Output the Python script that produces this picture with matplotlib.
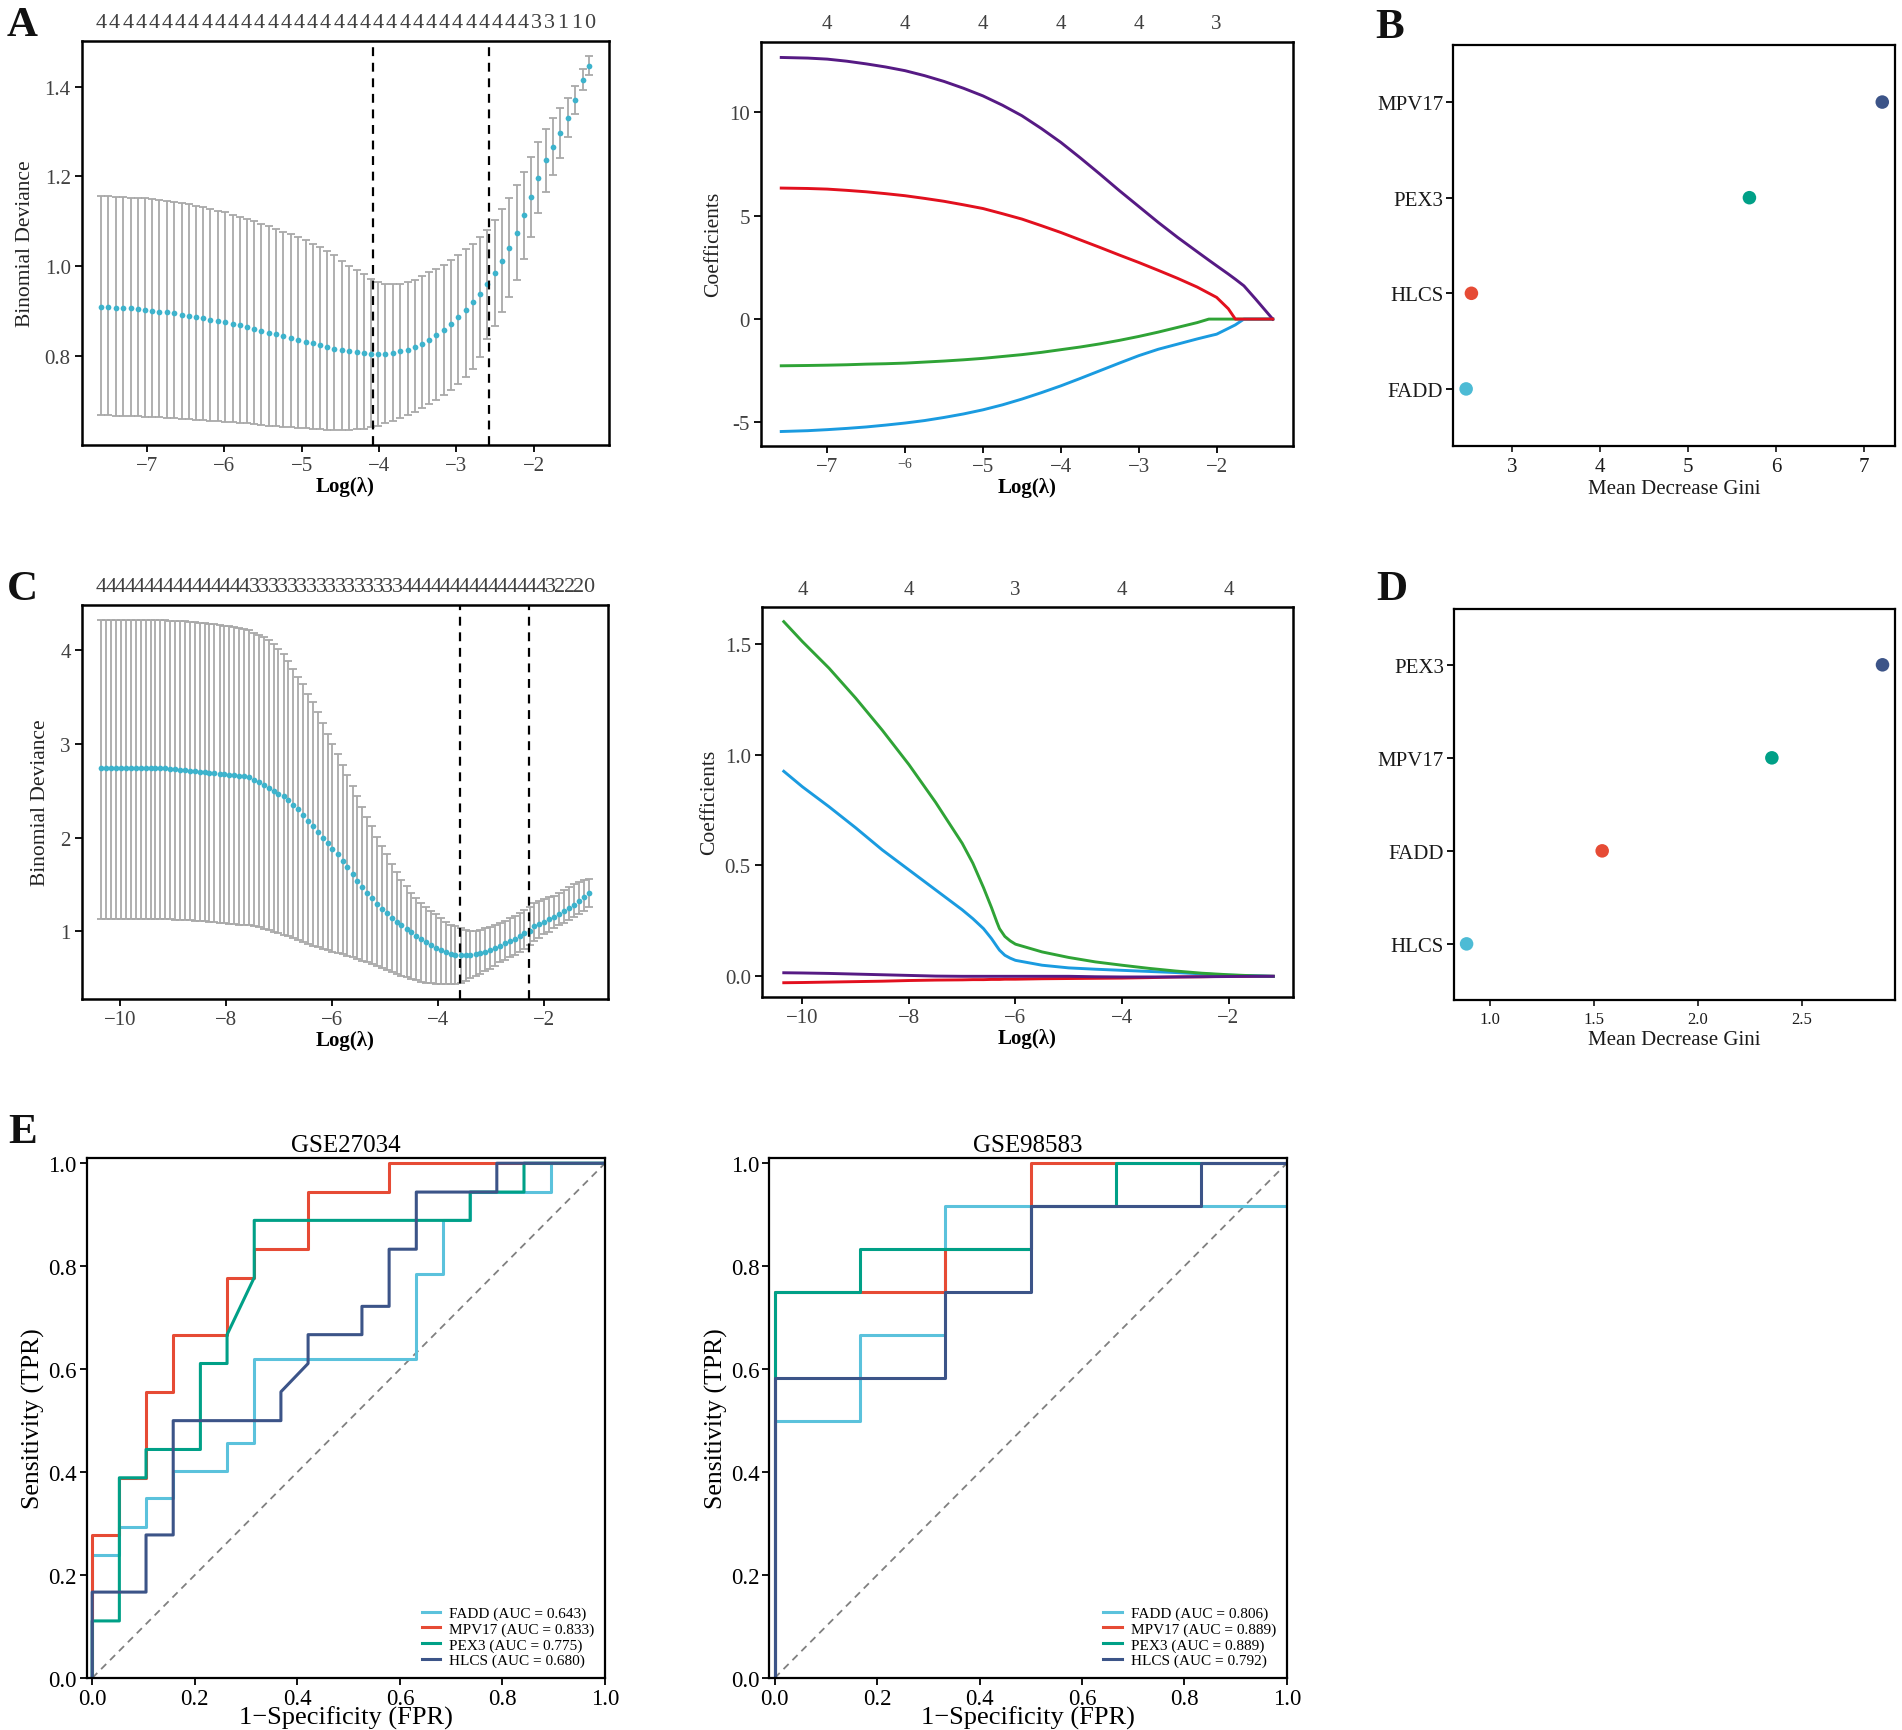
import matplotlib.pyplot as plt
import matplotlib.transforms as mtransforms
import numpy as np
from matplotlib.ticker import FormatStrFormatter

plt.rcParams['font.family'] = ['Liberation Serif', 'DejaVu Serif']

# ---------------- Data ----------------
# Panel A: 10-fold CV binomial deviance (first dataset)
a_loglam = [-7.59, -7.50, -7.40, -7.31, -7.21, -7.12, -7.02, -6.93, -6.84, -6.74,
            -6.65, -6.55, -6.46, -6.37, -6.27, -6.18, -6.08, -5.99, -5.89, -5.80,
            -5.71, -5.61, -5.52, -5.42, -5.33, -5.24, -5.14, -5.05, -4.95, -4.86,
            -4.76, -4.67, -4.58, -4.48, -4.39, -4.29, -4.20, -4.11, -4.01, -3.92,
            -3.82, -3.73, -3.63, -3.54, -3.45, -3.35, -3.26, -3.16, -3.07, -2.98,
            -2.88, -2.79, -2.69, -2.60, -2.50, -2.41, -2.32, -2.22, -2.13, -2.03,
            -1.94, -1.84, -1.75, -1.66, -1.56, -1.47, -1.37, -1.28]
a_mean = [0.910, 0.909, 0.908, 0.907, 0.906, 0.904, 0.903, 0.901, 0.899, 0.897,
          0.895, 0.892, 0.890, 0.887, 0.884, 0.881, 0.878, 0.875, 0.871, 0.868,
          0.864, 0.860, 0.856, 0.852, 0.848, 0.844, 0.840, 0.836, 0.832, 0.828,
          0.824, 0.820, 0.816, 0.813, 0.810, 0.808, 0.806, 0.805, 0.805, 0.805,
          0.807, 0.810, 0.814, 0.820, 0.827, 0.836, 0.846, 0.858, 0.871, 0.886,
          0.902, 0.920, 0.939, 0.960, 0.984, 1.011, 1.041, 1.075, 1.113, 1.155,
          1.197, 1.236, 1.266, 1.296, 1.331, 1.370, 1.415, 1.447]
a_upper = [1.157, 1.156, 1.155, 1.154, 1.153, 1.152, 1.151, 1.149, 1.147, 1.145,
           1.143, 1.141, 1.138, 1.135, 1.132, 1.128, 1.124, 1.120, 1.115, 1.110,
           1.105, 1.100, 1.095, 1.089, 1.083, 1.077, 1.071, 1.065, 1.058, 1.050,
           1.042, 1.034, 1.025, 1.012, 1.000, 0.991, 0.982, 0.972, 0.965, 0.961,
           0.960, 0.960, 0.964, 0.970, 0.978, 0.986, 0.994, 1.003, 1.013, 1.025,
           1.038, 1.050, 1.064, 1.081, 1.103, 1.127, 1.152, 1.180, 1.210, 1.243,
           1.276, 1.306, 1.330, 1.352, 1.374, 1.402, 1.440, 1.469]
a_lower = [0.668, 0.668, 0.667, 0.667, 0.666, 0.666, 0.665, 0.664, 0.663, 0.662,
           0.661, 0.660, 0.659, 0.658, 0.657, 0.656, 0.655, 0.654, 0.652, 0.651,
           0.650, 0.648, 0.647, 0.645, 0.644, 0.642, 0.641, 0.640, 0.639, 0.638,
           0.637, 0.636, 0.636, 0.636, 0.636, 0.637, 0.638, 0.641, 0.645, 0.650,
           0.656, 0.662, 0.669, 0.676, 0.684, 0.693, 0.702, 0.712, 0.724, 0.737,
           0.753, 0.772, 0.797, 0.838, 0.866, 0.897, 0.931, 0.970, 1.016, 1.066,
           1.118, 1.166, 1.203, 1.240, 1.288, 1.338, 1.392, 1.426]
a_cut = [-4.08, -2.58]
a_nonzero = "4444444444" + "4444444444" + "4444444444" + "444" + "33110"

# Panel A right: coefficient paths
ca_loglam = [-7.59, -7.25, -7.0, -6.75, -6.5, -6.25, -6.0, -5.75, -5.5, -5.25,
             -5.0, -4.75, -4.5, -4.25, -4.0, -3.75, -3.5, -3.25, -3.0, -2.75,
             -2.5, -2.25, -2.1, -2.0, -1.85, -1.76, -1.65, -1.5, -1.28]
ca_purple = [12.66, 12.63, 12.58, 12.48, 12.35, 12.20, 12.02, 11.78, 11.50, 11.17,
             10.80, 10.35, 9.84, 9.22, 8.55, 7.80, 7.02, 6.22, 5.45, 4.68,
             3.95, 3.26, 2.85, 2.58, 2.18, 1.93, 1.61, 0.97, 0.0]
ca_red = [6.34, 6.32, 6.29, 6.23, 6.16, 6.07, 5.97, 5.84, 5.70, 5.53,
          5.35, 5.10, 4.84, 4.52, 4.19, 3.83, 3.47, 3.10, 2.74, 2.36,
          1.97, 1.55, 1.25, 1.05, 0.50, 0.0, 0.0, 0.0, 0.0]
ca_green = [-2.26, -2.245, -2.23, -2.21, -2.18, -2.16, -2.13, -2.08, -2.03, -1.97,
            -1.90, -1.81, -1.72, -1.61, -1.48, -1.35, -1.20, -1.03, -0.84, -0.63,
            -0.40, -0.17, 0.0, 0.0, 0.0, 0.0, 0.0, 0.0, 0.0]
ca_blue = [-5.44, -5.40, -5.35, -5.29, -5.22, -5.13, -5.03, -4.91, -4.76, -4.59,
           -4.39, -4.15, -3.87, -3.56, -3.23, -2.87, -2.50, -2.13, -1.77, -1.46,
           -1.21, -0.96, -0.82, -0.73, -0.45, -0.28, 0.0, 0.0, 0.0]
ca_top_ticks = [-7, -6, -5, -4, -3, -2]
ca_top_labels = ['4', '4', '4', '4', '4', '3']

# Panel B: random forest importance
b_genes = ['FADD', 'HLCS', 'PEX3', 'MPV17']
b_gini = [2.48, 2.54, 5.70, 7.21]

# Panel C: CV binomial deviance (second dataset)
c_loglam = [-10.35, -10.26, -10.16, -10.07, -9.98, -9.89, -9.79, -9.70, -9.61, -9.51,
            -9.42, -9.33, -9.24, -9.14, -9.05, -8.96, -8.86, -8.77, -8.68, -8.59,
            -8.49, -8.40, -8.31, -8.22, -8.12, -8.03, -7.94, -7.84, -7.75, -7.66,
            -7.56, -7.47, -7.38, -7.29, -7.19, -7.10, -7.01, -6.91, -6.82, -6.73,
            -6.64, -6.54, -6.45, -6.36, -6.26, -6.17, -6.08, -5.99, -5.89, -5.80,
            -5.71, -5.61, -5.52, -5.43, -5.34, -5.24, -5.15, -5.06, -4.96, -4.87,
            -4.78, -4.69, -4.59, -4.50, -4.41, -4.32, -4.22, -4.13, -4.04, -3.94,
            -3.85, -3.76, -3.67, -3.57, -3.48, -3.39, -3.29, -3.20, -3.11, -3.02,
            -2.92, -2.83, -2.74, -2.65, -2.55, -2.46, -2.37, -2.27, -2.18, -2.09,
            -2.00, -1.90, -1.81, -1.72, -1.62, -1.53, -1.44, -1.35, -1.25, -1.16]
c_mean = [2.74, 2.74, 2.74, 2.74, 2.74, 2.74, 2.74, 2.74, 2.74, 2.74,
          2.74, 2.74, 2.74, 2.74, 2.73, 2.73, 2.72, 2.72, 2.71, 2.71,
          2.70, 2.70, 2.69, 2.69, 2.68, 2.68, 2.67, 2.67, 2.66, 2.66,
          2.65, 2.62, 2.59, 2.56, 2.53, 2.50, 2.47, 2.44, 2.40, 2.35,
          2.30, 2.24, 2.18, 2.12, 2.06, 2.00, 1.94, 1.88, 1.82, 1.75,
          1.68, 1.61, 1.54, 1.47, 1.41, 1.35, 1.29, 1.24, 1.19, 1.14,
          1.10, 1.06, 1.02, 0.99, 0.95, 0.92, 0.88, 0.85, 0.82, 0.80,
          0.78, 0.76, 0.745, 0.74, 0.74, 0.745, 0.75, 0.765, 0.78, 0.80,
          0.82, 0.845, 0.87, 0.895, 0.92, 0.95, 0.975, 1.00, 1.05, 1.075,
          1.10, 1.125, 1.155, 1.18, 1.21, 1.245, 1.28, 1.32, 1.36, 1.41]
c_upper = [4.33, 4.33, 4.33, 4.33, 4.33, 4.33, 4.33, 4.33, 4.33, 4.33,
           4.33, 4.33, 4.33, 4.33, 4.32, 4.32, 4.31, 4.31, 4.30, 4.30,
           4.29, 4.29, 4.28, 4.28, 4.27, 4.26, 4.26, 4.25, 4.24, 4.23,
           4.22, 4.19, 4.17, 4.14, 4.11, 4.07, 4.02, 3.96, 3.89, 3.80,
           3.72, 3.64, 3.54, 3.45, 3.34, 3.22, 3.11, 3.00, 2.89, 2.78,
           2.67, 2.55, 2.44, 2.33, 2.22, 2.12, 2.01, 1.91, 1.82, 1.72,
           1.63, 1.55, 1.48, 1.41, 1.35, 1.30, 1.26, 1.22, 1.18, 1.14,
           1.10, 1.07, 1.05, 1.03, 1.01, 1.00, 1.00, 1.01, 1.03, 1.045,
           1.06, 1.085, 1.11, 1.135, 1.165, 1.195, 1.225, 1.26, 1.30, 1.32,
           1.34, 1.36, 1.38, 1.41, 1.44, 1.47, 1.50, 1.53, 1.55, 1.56]
c_lower = [1.13, 1.13, 1.13, 1.13, 1.13, 1.13, 1.13, 1.13, 1.13, 1.13,
           1.13, 1.13, 1.13, 1.13, 1.13, 1.12, 1.12, 1.12, 1.12, 1.11,
           1.11, 1.11, 1.10, 1.10, 1.09, 1.09, 1.08, 1.08, 1.07, 1.07,
           1.06, 1.05, 1.04, 1.025, 1.01, 0.995, 0.98, 0.96, 0.945, 0.93,
           0.905, 0.88, 0.86, 0.84, 0.83, 0.81, 0.795, 0.78, 0.765, 0.75,
           0.735, 0.72, 0.70, 0.68, 0.665, 0.645, 0.625, 0.605, 0.585, 0.565,
           0.545, 0.525, 0.51, 0.49, 0.475, 0.46, 0.45, 0.44, 0.435, 0.43,
           0.43, 0.43, 0.435, 0.445, 0.47, 0.50, 0.52, 0.545, 0.57, 0.60,
           0.625, 0.665, 0.695, 0.72, 0.745, 0.775, 0.81, 0.85, 0.89, 0.925,
           0.965, 0.99, 1.03, 1.06, 1.09, 1.12, 1.155, 1.18, 1.21, 1.26]
c_cut = [-3.59, -2.28]
c_nonzero = "4444444444444444" + "3333333333333333" + "444444444444444" + "32220"

# Panel C right: coefficient paths
cc_loglam = [-10.35, -10.0, -9.5, -9.0, -8.5, -8.0, -7.5, -7.0, -6.8, -6.6,
             -6.45, -6.35, -6.3, -6.2, -6.1, -6.0, -5.5, -5.0, -4.5, -4.0,
             -3.5, -3.0, -2.5, -2.0, -1.5, -1.16]
cc_green = [1.60, 1.51, 1.39, 1.255, 1.11, 0.955, 0.785, 0.60, 0.51, 0.40,
            0.31, 0.245, 0.215, 0.18, 0.16, 0.145, 0.11, 0.085, 0.065, 0.05,
            0.036, 0.024, 0.014, 0.007, 0.002, 0.0]
cc_blue = [0.925, 0.855, 0.765, 0.67, 0.57, 0.48, 0.39, 0.30, 0.26, 0.215,
           0.17, 0.135, 0.118, 0.095, 0.082, 0.072, 0.05, 0.038, 0.032, 0.027,
           0.022, 0.017, 0.011, 0.005, 0.002, 0.0]
cc_purple = [0.016, 0.015, 0.013, 0.010, 0.007, 0.004, 0.001, 0.0, 0.0, 0.0,
             0.0, 0.0, 0.0, 0.0, 0.0, 0.0, 0.0, 0.0, -0.002, -0.003,
             -0.003, -0.003, -0.002, -0.001, 0.0, 0.0]
cc_red = [-0.029, -0.028, -0.026, -0.024, -0.022, -0.019, -0.017, -0.016, -0.015, -0.015,
          -0.014, -0.014, -0.014, -0.013, -0.013, -0.013, -0.011, -0.010, -0.009, -0.008,
          -0.006, -0.003, -0.002, 0.0, 0.0, 0.0]
cc_top_ticks = [-10, -8, -6, -4, -2]
cc_top_labels = ['4', '4', '3', '4', '4']

# Panel D: random forest importance
d_genes = ['HLCS', 'FADD', 'MPV17', 'PEX3']
d_gini = [0.889, 1.541, 2.357, 2.889]

# Panel E: ROC curves, (FPR, TPR) steps
roc_genes = ['FADD', 'MPV17', 'PEX3', 'HLCS']
gse27034_fadd = [(0, 0), (0, 0.239), (0.053, 0.239), (0.053, 0.294), (0.105, 0.294),
                 (0.105, 0.349), (0.158, 0.349), (0.158, 0.402), (0.263, 0.402),
                 (0.263, 0.457), (0.316, 0.457), (0.316, 0.620), (0.632, 0.620),
                 (0.632, 0.784), (0.684, 0.784), (0.684, 0.890), (0.737, 0.890),
                 (0.737, 0.945), (0.895, 0.945), (0.895, 1.0), (1.0, 1.0)]
gse27034_mpv17 = [(0, 0), (0, 0.278), (0.053, 0.278), (0.053, 0.389), (0.105, 0.389),
                  (0.105, 0.556), (0.158, 0.556), (0.158, 0.667), (0.263, 0.667),
                  (0.263, 0.778), (0.316, 0.778), (0.316, 0.833), (0.421, 0.833),
                  (0.421, 0.944), (0.579, 0.944), (0.579, 1.0), (1.0, 1.0)]
gse27034_pex3 = [(0, 0), (0, 0.111), (0.053, 0.111), (0.053, 0.389), (0.105, 0.389),
                 (0.105, 0.444), (0.211, 0.444), (0.211, 0.611), (0.263, 0.611),
                 (0.263, 0.667), (0.316, 0.778), (0.316, 0.889), (0.737, 0.889),
                 (0.737, 0.944), (0.842, 0.944), (0.842, 1.0), (1.0, 1.0)]
gse27034_hlcs = [(0, 0), (0, 0.167), (0.105, 0.167), (0.105, 0.278), (0.158, 0.278),
                 (0.158, 0.5), (0.368, 0.5), (0.368, 0.556), (0.421, 0.611),
                 (0.421, 0.667), (0.526, 0.667), (0.526, 0.722), (0.579, 0.722),
                 (0.579, 0.833), (0.632, 0.833), (0.632, 0.944), (0.789, 0.944),
                 (0.789, 1.0), (1.0, 1.0)]
gse27034_auc = [0.643, 0.833, 0.775, 0.680]

gse98583_fadd = [(0, 0), (0, 0.5), (0.167, 0.5), (0.167, 0.667), (0.333, 0.667),
                 (0.333, 0.917), (1.0, 0.917), (1.0, 1.0)]
gse98583_mpv17 = [(0, 0), (0, 0.75), (0.333, 0.75), (0.333, 0.833), (0.5, 0.833),
                  (0.5, 1.0), (1.0, 1.0)]
gse98583_pex3 = [(0, 0), (0, 0.75), (0.167, 0.75), (0.167, 0.833), (0.5, 0.833),
                 (0.5, 0.917), (0.667, 0.917), (0.667, 1.0), (1.0, 1.0)]
gse98583_hlcs = [(0, 0), (0, 0.583), (0.333, 0.583), (0.333, 0.75), (0.5, 0.75),
                 (0.5, 0.917), (0.833, 0.917), (0.833, 1.0), (1.0, 1.0)]
gse98583_auc = [0.806, 0.889, 0.889, 0.792]

# ---------------- Style ----------------
dot_col = '#3DB3CC'
bar_col = '#A9A9A9'
tick_col = '#404040'
rank_cols = ['#4DBBD5', '#E64B35', '#00A087', '#3C5488']   # lowest -> highest
roc_cols = ['#5BC2DC', '#E64B35', '#00A087', '#3C5488']
path_cols = {'purple': '#561A84', 'red': '#E2101E', 'green': '#2FA336', 'blue': '#1A9BE0'}

fig = plt.figure(figsize=(19.02, 17.31), dpi=100)


def frame(ax, lw=1.8):
    for s in ax.spines.values():
        s.set_linewidth(lw)
        s.set_color('black')


def cv_panel(rect, x, mean, upper, lower, cuts, nz, yticks, yfmt):
    ax = fig.add_axes(rect)
    mean = np.array(mean)
    err = [mean - np.array(lower), np.array(upper) - mean]
    ax.errorbar(x, mean, yerr=err, fmt='none', ecolor=bar_col, elinewidth=1.3,
                capsize=3.2, capthick=1.3, zorder=2)
    ax.scatter(x, mean, s=17, color=dot_col, zorder=3, linewidths=0)
    for c in cuts:
        ax.axvline(c, color='black', ls=(0, (4, 3)), lw=1.6, zorder=4)
    span = x[-1] - x[0]
    ax.set_xlim(x[0] - 0.04 * span, x[-1] + 0.04 * span)
    ylo, yhi = min(lower), max(upper)
    ax.set_ylim(ylo - 0.04 * (yhi - ylo), yhi + 0.04 * (yhi - ylo))
    ax.set_yticks(yticks)
    ax.yaxis.set_major_formatter(FormatStrFormatter(yfmt))
    ax.tick_params(direction='out', length=5, width=1.3, labelsize=15,
                   labelcolor=tick_col, pad=3)
    ax.set_xlabel('Log(λ)', fontsize=15, fontweight='bold', labelpad=1)
    ax.set_ylabel('Binomial Deviance', fontsize=15.5, color='#222222', labelpad=7)
    trans = mtransforms.blended_transform_factory(ax.transData, ax.transAxes)
    for px, ch in zip(np.linspace(x[0], x[-1], len(nz)), nz):
        ax.text(px, 1.046, ch, transform=trans, ha='center', va='center',
                fontsize=16, color=tick_col)
    frame(ax)
    return ax


def path_panel(rect, x, lines, xlim, ylim, yticks, yfmt, top_ticks, top_labels):
    ax = fig.add_axes(rect)
    for ys, col in lines:
        ax.plot(x, ys, color=col, lw=2.1, solid_joinstyle='round')
    ax.set_xlim(*xlim)
    ax.set_ylim(*ylim)
    ax.set_yticks(yticks)
    ax.yaxis.set_major_formatter(FormatStrFormatter(yfmt))
    ax.set_xticks(top_ticks)
    ax.tick_params(direction='out', length=5, width=1.3, labelsize=15,
                   labelcolor=tick_col, pad=3)
    ax.set_xlabel('Log(λ)', fontsize=15, fontweight='bold', labelpad=1)
    ax.set_ylabel('Coefficients', fontsize=15.5, color='#222222', labelpad=4)
    trans = mtransforms.blended_transform_factory(ax.transData, ax.transAxes)
    for t, lab in zip(top_ticks, top_labels):
        ax.text(t, 1.045, lab, transform=trans, ha='center', va='center',
                fontsize=15, color=tick_col)
    frame(ax)
    return ax


def gini_panel(rect, genes, vals, xlim, xticks, xfmt, xsize):
    ax = fig.add_axes(rect)
    ypos = np.arange(1, len(genes) + 1)
    ax.scatter(vals, ypos, s=95, color=rank_cols, linewidths=0, zorder=3)
    ax.set_xlim(*xlim)
    ax.set_ylim(0.4, len(genes) + 0.6)
    ax.set_yticks(ypos)
    ax.set_yticklabels(genes)
    ax.set_xticks(xticks)
    ax.xaxis.set_major_formatter(FormatStrFormatter(xfmt))
    ax.tick_params(axis='y', direction='out', length=5, width=1.3, labelsize=15,
                   labelcolor='#1A1A1A', pad=2)
    ax.tick_params(axis='x', direction='out', length=4, width=1.1, labelsize=xsize,
                   labelcolor='#1A1A1A', pad=4)
    ax.set_xlabel('Mean Decrease Gini', fontsize=15, color='#1A1A1A', labelpad=2)
    frame(ax, 1.6)
    return ax


def roc_panel(rect, title, curves, aucs):
    ax = fig.add_axes(rect)
    ax.plot([0, 1], [0, 1], ls=(0, (4, 3)), color='#808080', lw=1.3)
    for gene, pts, auc, col in zip(roc_genes, curves, aucs, roc_cols):
        fpr = [p[0] for p in pts]
        tpr = [p[1] for p in pts]
        ax.plot(fpr, tpr, color=col, lw=2.2, label=f'{gene} (AUC = {auc:.3f})')
    ax.set_xlim(-0.011, 1.0)
    ax.set_ylim(0.0, 1.01)
    ax.set_xticks([0, 0.2, 0.4, 0.6, 0.8, 1.0])
    ax.set_yticks([0, 0.2, 0.4, 0.6, 0.8, 1.0])
    ax.xaxis.set_major_formatter(FormatStrFormatter('%.1f'))
    ax.yaxis.set_major_formatter(FormatStrFormatter('%.1f'))
    ax.tick_params(direction='out', length=5, width=1.3, labelsize=16.5, pad=2)
    ax.set_title(title, fontsize=18, pad=5)
    ax.set_xlabel('1\u2212Specificity (FPR)', fontsize=19, labelpad=-2)
    ax.set_ylabel('Sensitivity (TPR)', fontsize=18.5, labelpad=2)
    ax.legend(loc='lower right', fontsize=11, frameon=False, handlelength=1.2,
              handletextpad=0.6, labelspacing=0.12, borderaxespad=0.3)
    frame(ax, 1.6)
    return ax


# ---------------- Panels ----------------
cv_panel([0.0430, 0.7426, 0.2772, 0.2333], a_loglam, a_mean, a_upper, a_lower,
         a_cut, a_nonzero, [0.8, 1.0, 1.2, 1.4], '%.1f')

ax_ca = path_panel([0.4001, 0.7419, 0.2797, 0.2334], ca_loglam,
                   [(ca_green, path_cols['green']), (ca_blue, path_cols['blue']),
                    (ca_purple, path_cols['purple']), (ca_red, path_cols['red'])],
                   (-7.85, -1.02), (-6.13, 13.42), [-5, 0, 5, 10], '%d',
                   ca_top_ticks, ca_top_labels)
ax_ca.get_xticklabels()[1].set_fontsize(10)

gini_panel([0.7639, 0.7416, 0.2322, 0.2320], b_genes, b_gini, (2.33, 7.35),
           [3, 4, 5, 6, 7], '%d', 15)

cv_panel([0.0430, 0.4223, 0.2767, 0.2276], c_loglam, c_mean, c_upper, c_lower,
         c_cut, c_nonzero, [1, 2, 3, 4], '%d')

path_panel([0.4006, 0.4235, 0.2792, 0.2255], cc_loglam,
           [(cc_red, path_cols['red']), (cc_blue, path_cols['blue']),
            (cc_green, path_cols['green']), (cc_purple, path_cols['purple'])],
           (-10.76, -0.79), (-0.093, 1.668), [0.0, 0.5, 1.0, 1.5], '%.1f',
           cc_top_ticks, cc_top_labels)

gini_panel([0.7643, 0.4219, 0.2319, 0.2257], d_genes, d_gini, (0.827, 2.948),
           [1.0, 1.5, 2.0, 2.5], '%.1f', 12)

roc_panel([0.0455, 0.0300, 0.2726, 0.3004], 'GSE27034',
          [gse27034_fadd, gse27034_mpv17, gse27034_pex3, gse27034_hlcs], gse27034_auc)
roc_panel([0.4043, 0.0300, 0.2723, 0.3004], 'GSE98583',
          [gse98583_fadd, gse98583_mpv17, gse98583_pex3, gse98583_hlcs], gse98583_auc)

# Panel letters
for lab, x, y in [('A', 0.0035, 0.979), ('B', 0.7233, 0.978), ('C', 0.0035, 0.6534),
                  ('D', 0.7234, 0.6534), ('E', 0.0042, 0.3399)]:
    fig.text(x, y, lab, fontsize=31, fontweight='bold', ha='left', va='baseline',
             color='#111111')

fig.savefig('out.png', dpi=100)
